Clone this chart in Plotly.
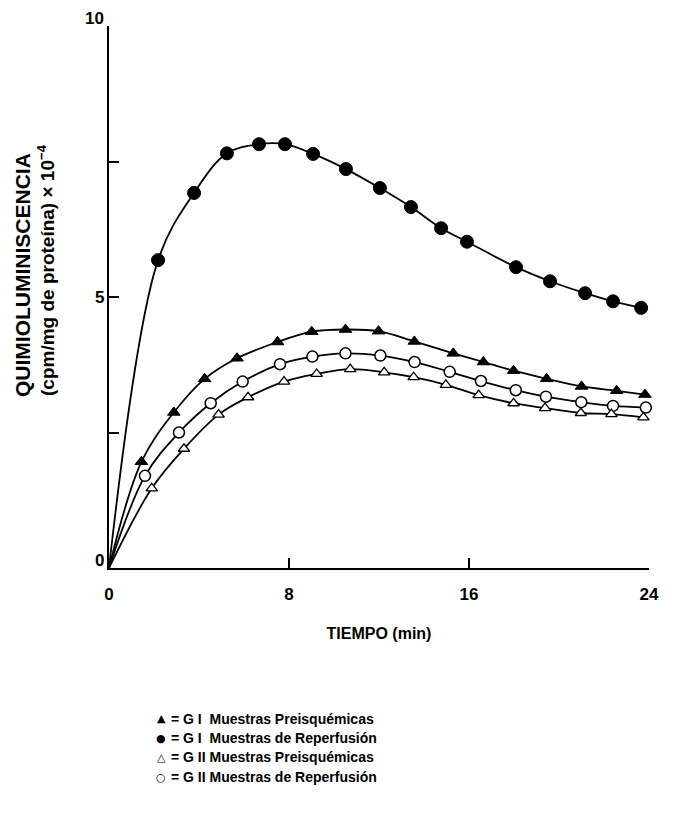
import plotly.graph_objects as go

# ---- data ----
t_g1_rep = [2.18, 3.78, 5.24, 6.67, 7.82, 9.07, 10.53, 12.04, 13.42, 14.76, 15.91, 18.09, 19.60, 21.16, 22.40, 23.65]
v_g1_rep = [5.68, 6.92, 7.65, 7.82, 7.82, 7.64, 7.36, 7.01, 6.66, 6.27, 6.02, 5.55, 5.29, 5.07, 4.92, 4.80]

t_g1_pre = [1.44, 2.88, 4.25, 5.69, 7.49, 9.01, 10.51, 11.98, 13.57, 15.30, 16.64, 17.98, 19.45, 21.00, 22.56, 23.82]
v_g1_pre = [1.96, 2.87, 3.49, 3.87, 4.17, 4.36, 4.40, 4.37, 4.18, 3.96, 3.80, 3.64, 3.49, 3.35, 3.27, 3.20]

t_g2_rep = [1.60, 3.11, 4.52, 5.94, 7.60, 9.04, 10.51, 12.06, 13.58, 15.14, 16.53, 18.08, 19.42, 20.99, 22.40, 23.86]
v_g2_rep = [1.70, 2.50, 3.04, 3.44, 3.76, 3.90, 3.96, 3.92, 3.80, 3.62, 3.45, 3.28, 3.16, 3.06, 2.99, 2.96]

t_g2_pre = [1.90, 3.33, 4.87, 6.18, 7.78, 9.23, 10.72, 12.23, 13.54, 14.97, 16.43, 17.98, 19.38, 20.97, 22.33, 23.75]
v_g2_pre = [1.47, 2.20, 2.83, 3.15, 3.44, 3.58, 3.67, 3.61, 3.52, 3.38, 3.19, 3.04, 2.95, 2.86, 2.84, 2.78]

origin_t = [0.0]
origin_v = [0.0]

x_tickvals = [0, 8, 16, 24]
x_ticktext = ["0", "8", "16", "24"]
y_tickvals = [0, 2.5, 5, 7.5, 10]
y_labelvals = [0, 5, 10]
y_labeltext = ["0", "5", "10"]

legend_symbols = ["▲", "●", "△", "○"]
legend_labels = [
    "= G I  Muestras Preisquémicas",
    "= G I  Muestras de Reperfusión",
    "= G II Muestras Preisquémicas",
    "= G II Muestras de Reperfusión",
]

# ---- figure (page has an 8px body margin) ----
OFF = 8
W, H = 677 - OFF, 817 - OFF
L, T = 109 - OFF, 26 - OFF
R = W - (649 - OFF)
B = H - (568 - OFF)
PW, PH = W - L - R, H - T - B
FONT = "Liberation Sans, Arial, sans-serif"

def px_x(px):
    return (px - OFF - L) / PW

def px_y(py):
    return (H - B - (py - OFF)) / PH

fig = go.Figure()

series = [
    (t_g1_rep, v_g1_rep, dict(symbol="circle", size=13, color="black", line=dict(color="black", width=1))),
    (t_g1_pre, v_g1_pre, dict(symbol="triangle-up", size=11, color="black", line=dict(color="black", width=1))),
    (t_g2_rep, v_g2_rep, dict(symbol="circle", size=11, color="white", line=dict(color="black", width=1.5))),
    (t_g2_pre, v_g2_pre, dict(symbol="triangle-up", size=10, color="white", line=dict(color="black", width=1.3))),
]

for t, v, _ in series:
    fig.add_trace(go.Scatter(
        x=origin_t + t, y=origin_v + v, mode="lines",
        line=dict(color="black", width=1.8, shape="spline", smoothing=1.0),
        showlegend=False, hoverinfo="skip"))

for t, v, m in series:
    fig.add_trace(go.Scatter(x=t, y=v, mode="markers", marker=m, showlegend=False, cliponaxis=False))

fig.update_xaxes(
    range=[0, 24], tickvals=x_tickvals, ticktext=x_ticktext,
    ticks="inside", ticklen=10, tickwidth=2, tickcolor="black",
    showline=True, linecolor="black", linewidth=2, showgrid=False, zeroline=False,
    tickfont=dict(family=FONT, size=17, color="black", weight="bold"),
    ticklabelstandoff=10,
    title=dict(text="<b>TIEMPO (min)</b>", font=dict(family=FONT, size=16, color="black"), standoff=24),
)
fig.update_yaxes(
    range=[0, 10], tickvals=y_tickvals, showticklabels=False,
    ticks="inside", ticklen=10, tickwidth=2, tickcolor="black",
    showline=True, linecolor="black", linewidth=2, showgrid=False, zeroline=False,
)

annotations = [
    dict(x=px_x(22), y=px_y(275), xref="paper", yref="paper", text="<b>QUIMIOLUMINISCENCIA</b>",
         textangle=-90, showarrow=False, font=dict(family=FONT, size=21, color="black"),
         xanchor="center", yanchor="middle"),
    dict(x=px_x(46), y=px_y(270), xref="paper", yref="paper",
         text="<b>(cpm/mg de proteína) × 10<sup>−4</sup></b>",
         textangle=-90, showarrow=False, font=dict(family=FONT, size=19, color="black"),
         xanchor="center", yanchor="middle"),
]

label_shift = {0: 8, 5: 0, 10: 8}
for val, txt in zip(y_labelvals, y_labeltext):
    annotations.append(dict(x=0, y=val, xref="paper", yref="y", text="<b>" + txt + "</b>",
                            showarrow=False, xanchor="right", yanchor="middle", xshift=-3,
                            yshift=label_shift[val],
                            font=dict(family=FONT, size=17, color="black")))

leg_y = [719, 738, 757, 777]
for sym, lab, yy in zip(legend_symbols, legend_labels, leg_y):
    annotations.append(dict(x=px_x(161), y=px_y(yy), xref="paper", yref="paper", text=sym,
                            showarrow=False, font=dict(family="DejaVu Sans", size=11, color="black"),
                            xanchor="center", yanchor="middle"))
    annotations.append(dict(x=px_x(169), y=px_y(yy), xref="paper", yref="paper", text="<b>" + lab + "</b>",
                            showarrow=False, font=dict(family=FONT, size=14, color="black"),
                            xanchor="left", yanchor="middle"))

fig.update_layout(
    width=W, height=H, autosize=False,
    margin=dict(l=L, r=R, t=T, b=B),
    paper_bgcolor="white", plot_bgcolor="white",
    annotations=annotations, showlegend=False,
)

fig.write_html("out.html")
